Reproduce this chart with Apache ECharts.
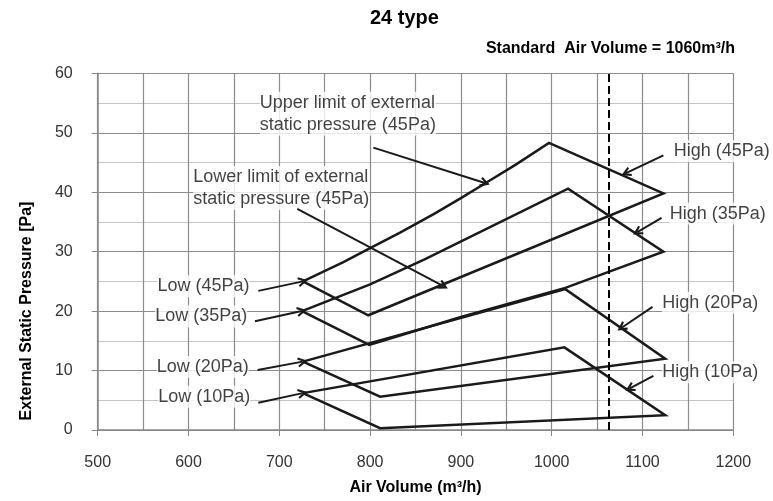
<!DOCTYPE html>
<html>
<head>
<meta charset="utf-8">
<script src="https://cdn.jsdelivr.net/npm/echarts@6/dist/echarts.min.js"></script>
<style>
  html, body { margin: 0; padding: 0; background: #fff; }
  #chart { width: 773px; height: 501px; }
</style>
</head>
<body>
<div id="chart"></div>
<script>
// 各静圧の運転範囲（多角形の頂点、最後は始点に戻る）
const volume45 = [726, 770, 800, 833, 870, 900, 930, 960, 997, 1123, 798, 726];
const press45 = [25, 28.2, 30.6, 33.2, 36.3, 39.0, 41.8, 44.6, 48.3, 39.8, 19.3, 25];
const volume35 = [725, 800, 860, 1018, 1123, 1015, 900, 833, 799, 725];
const press35 = [20, 24.5, 28.7, 40.6, 30, 23.9, 19.0, 15.9, 14.3, 20];
const volume20 = [726, 1015, 1125, 811, 726];
const press20 = [11.5, 23.7, 12, 5.6, 11.5];
const volume10 = [726, 1014, 1125, 811, 726];
const press10 = [6.2, 13.9, 2.5, 0.3, 6.2];

// 標準風量（破線）
const standardVolume = 1063;

// 注記テキストと位置
const noteText = [
  'Upper limit of external\nstatic pressure (45Pa)',
  'Lower limit of external\nstatic pressure (45Pa)',
  'Low (45Pa)', 'Low (35Pa)', 'Low (20Pa)', 'Low (10Pa)',
  'High (45Pa)', 'High (35Pa)', 'High (20Pa)', 'High (10Pa)'
];
const noteX = [678, 604.6, 667.7, 665.2, 667, 668.5, 1133.9, 1129.5, 1121.1, 1121.1];
const noteY = [53.2, 40.7, 24.2, 19.1, 10.6, 5.6, 46.9, 36.4, 21.4, 9.7];
const noteSide = ['right', 'right', 'left', 'left', 'left', 'left', 'right', 'right', 'right', 'right'];

// 矢印（始点 → 先端）
const arrowFromX = [803.6, 719.8, 676.9, 673.2, 676.2, 676.9, 1123, 1121, 1111, 1112];
const arrowFromY = [47.5, 37.2, 23.4, 18.3, 10.1, 4.6, 46.2, 35.7, 20.7, 9.1];
const arrowToX = [926.5, 880.7, 726, 724.7, 725.7, 725.7, 1081.8, 1094.3, 1077, 1086];
const arrowToY = [41.55, 24.2, 25, 20, 11.5, 6.2, 43.2, 33.3, 17.2, 7.0];

const xTicks = [500, 1200, 100];
const yTicks = [0, 60, 10];

const FONT = "'Liberation Sans', Arial, sans-serif";
const INK = '#1a1a1a';

const zip = (xs, ys) => xs.map((x, i) => [x, ys[i]]);

const rangeSeries = (name, xs, ys) => ({
  name: name,
  type: 'line',
  data: zip(xs, ys),
  symbol: 'none',
  silent: true,
  lineStyle: { color: INK, width: 2.5, join: 'miter' },
  z: 3
});

// 先端が上を向いた山形の矢じり
const chevron = 'path://M5 0 L10 9 L8.2 10 L5 4.6 L1.8 10 L0 9 Z';

const myChart = echarts.init(document.getElementById('chart'));
myChart.setOption({
  animation: false,
  title: [
    {
      text: '24 type',
      left: 370, top: 8, padding: 0,
      textStyle: { fontFamily: FONT, fontSize: 20, fontWeight: 'bold', color: '#000' }
    },
    {
      text: 'Standard  Air Volume = 1060m³/h',
      right: 38, top: 41, padding: 0,
      textStyle: { fontFamily: FONT, fontSize: 16, fontWeight: 'bold', color: '#000' }
    }
  ],
  graphic: [{
    type: 'text',
    x: 27, y: 311,
    rotation: Math.PI / 2,
    style: {
      text: 'External Static Pressure [Pa]',
      font: 'bold 16px ' + FONT,
      fill: '#000',
      align: 'center',
      verticalAlign: 'middle'
    }
  }],
  grid: { left: 97.7, right: 39.7, top: 73.3, bottom: 70 },
  xAxis: {
    type: 'value',
    min: xTicks[0], max: xTicks[1], interval: xTicks[2],
    name: 'Air Volume (m³/h)',
    nameLocation: 'middle',
    nameGap: 50,
    nameTextStyle: { fontFamily: FONT, fontSize: 16, fontWeight: 'bold', color: '#000' },
    axisLine: { show: true, lineStyle: { color: '#888', width: 1.5 } },
    axisTick: { show: true, length: 6, lineStyle: { color: '#888' } },
    axisLabel: { margin: 25, fontFamily: FONT, fontSize: 16, color: '#333', formatter: v => String(v) },
    splitLine: { show: true, lineStyle: { color: '#8c8c8c', width: 1.2 } },
    minorTick: { show: false, splitNumber: 2 },
    minorSplitLine: { show: true, lineStyle: { color: '#8c8c8c', width: 1.2 } }
  },
  yAxis: {
    type: 'value',
    min: yTicks[0], max: yTicks[1], interval: yTicks[2],
    axisLine: { show: true, lineStyle: { color: '#888', width: 1.5 } },
    axisTick: { show: true, length: 6, lineStyle: { color: '#888' } },
    axisLabel: { margin: 25, fontFamily: FONT, fontSize: 16, color: '#333' },
    splitLine: { show: true, lineStyle: { color: '#8c8c8c', width: 1.2 } },
    minorTick: { show: false, splitNumber: 2 },
    minorSplitLine: { show: true, lineStyle: { color: '#c4c4c4', width: 1.2 } }
  },
  series: [
    rangeSeries('45Pa', volume45, press45),
    rangeSeries('35Pa', volume35, press35),
    rangeSeries('20Pa', volume20, press20),
    rangeSeries('10Pa', volume10, press10),
    {
      name: 'notes',
      type: 'scatter',
      symbolSize: 1,
      silent: true,
      itemStyle: { color: 'transparent' },
      data: noteText.map((t, i) => ({
        value: [noteX[i], noteY[i]],
        label: { position: noteSide[i] }
      })),
      label: {
        show: true,
        distance: 0,
        formatter: p => noteText[p.dataIndex],
        fontFamily: FONT,
        fontSize: 18,
        lineHeight: 22,
        color: '#111',
        backgroundColor: '#fff'
      },
      markLine: {
        silent: true,
        symbol: ['none', chevron],
        symbolSize: [10, 10],
        label: { show: false },
        lineStyle: { color: INK, width: 2, type: 'solid' },
        data: arrowFromX.map((x, i) => [
          { coord: [x, arrowFromY[i]] },
          { coord: [arrowToX[i], arrowToY[i]] }
        ])
      },
      z: 4
    },
    {
      name: 'standard',
      type: 'line',
      data: [],
      markLine: {
        silent: true,
        symbol: 'none',
        label: { show: false },
        lineStyle: { color: '#000', width: 2, type: [8, 4] },
        data: [{ xAxis: standardVolume }]
      },
      z: 3
    }
  ]
});
</script>
</body>
</html>
